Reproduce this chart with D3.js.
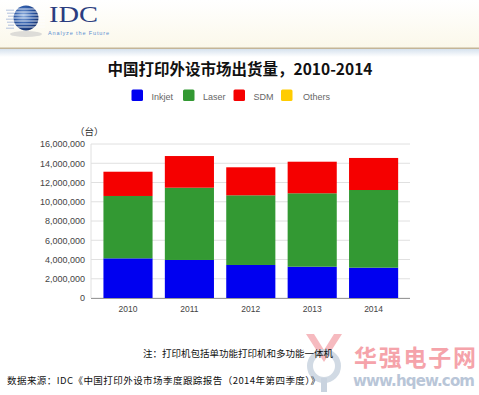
<!DOCTYPE html>
<html><head><meta charset="utf-8">
<script src="https://cdn.jsdelivr.net/npm/d3@7"></script>
<style>
html,body{margin:0;padding:0;background:#fff;}
svg{display:block;}
</style></head>
<body>
<svg id="c" width="479" height="395"></svg>
<script>
const years = ["2010","2011","2012","2013","2014"];
const seriesNames = ["Inkjet","Laser","SDM","Others"];
const inkjet = [4120000, 3950000, 3430000, 3250000, 3150000];
const laser  = [6480000, 7510000, 7240000, 7630000, 8070000];
const sdm    = [2520000, 3290000, 2910000, 3280000, 3330000];
const others = [0, 0, 0, 0, 0];
const colors = ["#0000f0","#339933","#f50000","#ffcc00"];
const yTicks = [0,2000000,4000000,6000000,8000000,10000000,12000000,14000000,16000000];

const svg = d3.select("#c");
const font = "'Liberation Sans', Arial, 'Noto Sans CJK SC', sans-serif";

// header band
const defs = svg.append("defs");
const g1 = defs.append("linearGradient").attr("id","hdr").attr("x1",0).attr("x2",0).attr("y1",0).attr("y2",1);
g1.append("stop").attr("offset","0").attr("stop-color","#ffffff");
g1.append("stop").attr("offset","1").attr("stop-color","#fbf8ea");
const g2 = defs.append("linearGradient").attr("id","hdr2").attr("x1",0).attr("x2",0).attr("y1",0).attr("y2",1);
g2.append("stop").attr("offset","0").attr("stop-color","#d6e2ee");
g2.append("stop").attr("offset","1").attr("stop-color","#ffffff");
const g3 = defs.append("radialGradient").attr("id","globe").attr("cx","0.4").attr("cy","0.4").attr("r","0.7");
g3.append("stop").attr("offset","0").attr("stop-color","#8fb0e0");
g3.append("stop").attr("offset","0.5").attr("stop-color","#2d5aa8");
g3.append("stop").attr("offset","1").attr("stop-color","#0d2560");

svg.append("rect").attr("x",0).attr("y",0).attr("width",479).attr("height",48).attr("fill","url(#hdr)");
svg.append("rect").attr("x",0).attr("y",47.5).attr("width",479).attr("height",1.6).attr("fill","#c4b597");
svg.append("rect").attr("x",0).attr("y",49).attr("width",479).attr("height",8).attr("fill","url(#hdr2)");

// IDC logo
svg.append("ellipse").attr("cx",26).attr("cy",34).attr("rx",16).attr("ry",3).attr("fill","#c8c8c8").attr("opacity",0.6);
svg.append("circle").attr("cx",26).attr("cy",18).attr("r",12.5).attr("fill","url(#globe)");
for (let i = 0; i < 7; i++) {
  const yy = 9 + i * 3;
  svg.append("line").attr("x1", 8 + (i%2)*2).attr("x2", 45).attr("y1", yy).attr("y2", yy)
    .attr("stroke", "#ffffff").attr("stroke-width", 1).attr("opacity", 0.8);
  svg.append("line").attr("x1", 6 + (i%3)).attr("x2", 14).attr("y1", yy+1.2).attr("y2", yy+1.2)
    .attr("stroke", "#9fb4d8").attr("stroke-width", 0.8);
}
svg.append("text").attr("x",49).attr("y",22).attr("font-family","'Liberation Serif', 'DejaVu Serif', serif")
  .attr("font-size",24).attr("fill","#2b3d80").attr("textLength",49).attr("lengthAdjust","spacingAndGlyphs").text("IDC");
svg.append("text").attr("x",48).attr("y",35).attr("font-family",font)
  .attr("font-size",5.5).attr("fill","#5b8fd0").attr("textLength",61).text("Analyze the Future");

// title
svg.append("text").attr("x",240).attr("y",75).attr("text-anchor","middle")
  .attr("font-family","'Noto Sans CJK SC', sans-serif").attr("font-weight","bold")
  .attr("font-size",15.5).attr("fill","#111").text("中国打印外设市场出货量，2010-2014");

// legend
const legX = [131.5, 183, 233.5, 281];
const legTX = [151.5, 203, 253.5, 303];
seriesNames.forEach((n,i)=>{
  svg.append("rect").attr("x",legX[i]).attr("y",89.5).attr("width",11.5).attr("height",11.5)
    .attr("rx",1.5).attr("fill",colors[i]);
  svg.append("text").attr("x",legTX[i]).attr("y",99.5).attr("font-family",font)
    .attr("font-size",9).attr("fill","#666").text(n);
});

// scales
const x = d3.scaleBand().domain(years).range([97.3, 404.3]).paddingInner(0.2).paddingOuter(0.1);
const y = d3.scaleLinear().domain([0,16000000]).range([298,144]);

// gridlines
svg.append("g").selectAll("line").data(yTicks).join("line")
  .attr("x1",91).attr("x2",410).attr("y1",d=>y(d)).attr("y2",d=>y(d))
  .attr("stroke","#e0e0e0").attr("stroke-width",1);
svg.append("line").attr("x1",91).attr("x2",91).attr("y1",144).attr("y2",298).attr("stroke","#e0e0e0");

// y axis labels
const yAxis = d3.axisLeft(y).tickValues(yTicks).tickSize(0).tickPadding(0)
  .tickFormat(d3.format(","));
const ya = svg.append("g").attr("transform","translate(85,0)").call(yAxis);
ya.select(".domain").remove();
ya.selectAll("text").attr("font-family",font).attr("font-size",9).attr("fill","#444");

svg.append("text").attr("x",75).attr("y",135).attr("font-family","'Noto Sans CJK SC', sans-serif")
  .attr("font-size",9.5).attr("fill","#333").text("（台）");

// stacked bars
const table = years.map((yr,i)=>({year:yr, Inkjet:inkjet[i], Laser:laser[i], SDM:sdm[i], Others:others[i]}));
const stack = d3.stack().keys(seriesNames)(table);
svg.append("g").selectAll("g").data(stack).join("g").attr("fill",(d,i)=>colors[i])
  .selectAll("rect").data(d=>d).join("rect")
  .attr("x",d=>x(d.data.year)).attr("width",x.bandwidth())
  .attr("y",d=>y(d[1])).attr("height",d=>Math.max(0,y(d[0])-y(d[1])));

// bottom axis
svg.append("line").attr("x1",91).attr("x2",410).attr("y1",298.5).attr("y2",298.5).attr("stroke","#999").attr("stroke-width",1.2);
const xAxis = d3.axisBottom(x).tickSize(0).tickPadding(0);
const xa = svg.append("g").attr("transform","translate(0,306)").call(xAxis);
xa.select(".domain").remove();
xa.selectAll("text").attr("font-family",font).attr("font-size",8.5).attr("fill","#444");

// watermark
const wm = svg.append("g");
wm.append("path").attr("d","M306,334 L324,362 L342,334 L334,334 L324,350 L314,334 Z").attr("fill","#f5b3b8").attr("opacity",0.9);
wm.append("circle").attr("cx",324).attr("cy",366).attr("r",14).attr("fill","none").attr("stroke","#c9d3df").attr("stroke-width",6).attr("opacity",0.85);
wm.append("line").attr("x1",324).attr("x2",324).attr("y1",378).attr("y2",392).attr("stroke","#c9d3df").attr("stroke-width",6);
wm.append("text").attr("x",354).attr("y",366).attr("font-family","'Noto Sans CJK SC', sans-serif").attr("font-weight","bold")
  .attr("font-size",23).attr("fill","#f5a3aa").attr("textLength",122).text("华强电子网");
wm.append("text").attr("x",353).attr("y",386).attr("font-family","'DejaVu Sans', sans-serif").attr("font-weight","bold")
  .attr("font-size",15).attr("fill","#b9c6d8").attr("textLength",122).text("www.hqew.com");

// notes
svg.append("text").attr("x",143).attr("y",357).attr("font-family","'Noto Sans CJK SC', sans-serif")
  .attr("font-size",9.5).attr("fill","#111").text("注：打印机包括单功能打印机和多功能一体机");
svg.append("text").attr("x",7).attr("y",384).attr("font-family","'Noto Sans CJK SC', sans-serif")
  .attr("font-size",9.5).attr("fill","#111").attr("textLength",313).text("数据来源：IDC《中国打印外设市场季度跟踪报告（2014年第四季度）》");
</script>
</body></html>
